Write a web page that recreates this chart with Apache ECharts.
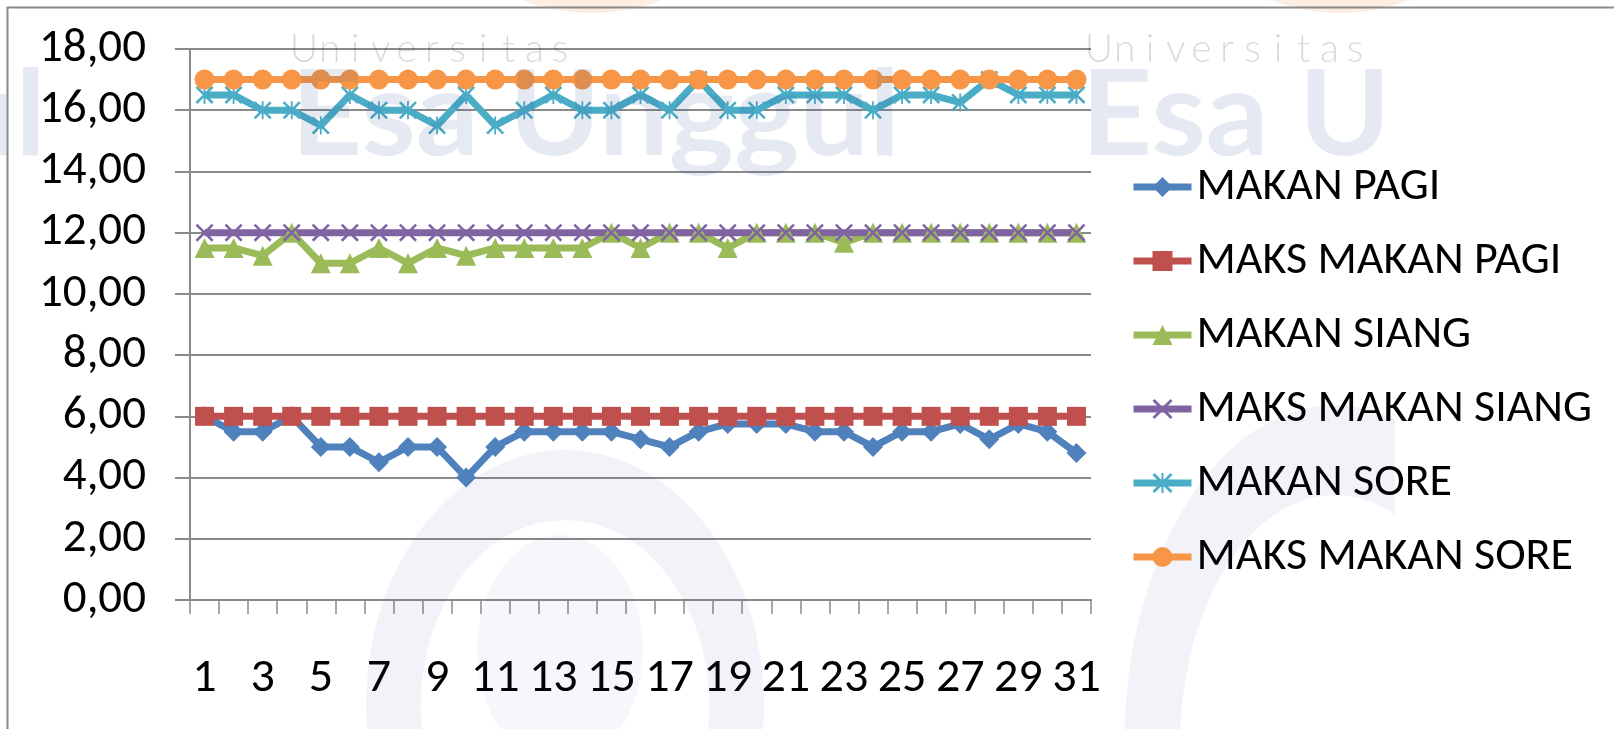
<!DOCTYPE html>
<html>
<head>
<meta charset="utf-8">
<script src="https://cdn.jsdelivr.net/npm/echarts@6/dist/echarts.min.js"></script>
<style>
  html, body { margin: 0; padding: 0; background: #ffffff; }
  #chart { width: 1614px; height: 729px; }
</style>
</head>
<body>
<div id="chart"></div>
<script>
// Days of the month (category axis)
const days = ['1','2','3','4','5','6','7','8','9','10','11','12','13','14','15','16',
              '17','18','19','20','21','22','23','24','25','26','27','28','29','30','31'];

// Breakfast intake and its maximum
const makanPagi = [6.0, 5.5, 5.5, 6.0, 5.0, 5.0, 4.5, 5.0, 5.0, 4.0, 5.0, 5.5, 5.5, 5.5, 5.5, 5.25,
                   5.0, 5.5, 5.75, 5.75, 5.75, 5.5, 5.5, 5.0, 5.5, 5.5, 5.75, 5.25, 5.75, 5.5, 4.8];
const maksMakanPagi = [6, 6, 6, 6, 6, 6, 6, 6, 6, 6, 6, 6, 6, 6, 6, 6,
                       6, 6, 6, 6, 6, 6, 6, 6, 6, 6, 6, 6, 6, 6, 6];

// Lunch intake and its maximum
const makanSiang = [11.5, 11.5, 11.25, 12.0, 11.0, 11.0, 11.5, 11.0, 11.5, 11.25, 11.5, 11.5, 11.5, 11.5, 12.0, 11.5,
                    12.0, 12.0, 11.5, 12.0, 12.0, 12.0, 11.67, 12.0, 12.0, 12.0, 12.0, 12.0, 12.0, 12.0, 12.0];
const maksMakanSiang = [12, 12, 12, 12, 12, 12, 12, 12, 12, 12, 12, 12, 12, 12, 12, 12,
                        12, 12, 12, 12, 12, 12, 12, 12, 12, 12, 12, 12, 12, 12, 12];

// Dinner intake and its maximum
const makanSore = [16.5, 16.5, 16.0, 16.0, 15.5, 16.5, 16.0, 16.0, 15.5, 16.5, 15.5, 16.0, 16.5, 16.0, 16.0, 16.5,
                   16.0, 17.0, 16.0, 16.0, 16.5, 16.5, 16.5, 16.0, 16.5, 16.5, 16.25, 17.0, 16.5, 16.5, 16.5];
const maksMakanSore = [17, 17, 17, 17, 17, 17, 17, 17, 17, 17, 17, 17, 17, 17, 17, 17,
                       17, 17, 17, 17, 17, 17, 17, 17, 17, 17, 17, 17, 17, 17, 17];

const seriesNames = ['MAKAN PAGI', 'MAKS MAKAN PAGI', 'MAKAN SIANG', 'MAKS MAKAN SIANG', 'MAKAN SORE', 'MAKS MAKAN SORE'];

// Value axis range and step
const yMin = 0, yMax = 18, yStep = 2;

const FONT = 'Carlito, Lato, "Open Sans", sans-serif';
const GRID_GRAY = '#8a8a8a';

// Cross and asterisk markers drawn as filled outlines
const crossPath = 'path://M0,1L1,0L10,9L9,10Z M9,0L10,1L1,10L0,9Z';
const starPath = 'path://M0,1L1,0L10,9L9,10Z M9,0L10,1L1,10L0,9Z M4.5,0L5.5,0L5.5,10L4.5,10Z';

function lineSeries(name, data, color, symbol, size) {
  return {
    name: name,
    type: 'line',
    data: data,
    symbol: symbol,
    symbolSize: size,
    showAllSymbol: true,
    lineStyle: { color: color, width: 7 },
    itemStyle: { color: color },
    emphasis: { disabled: true },
    animation: false
  };
}

// Letter-spaced heading text laid out glyph by glyph
function spacedText(str, x0, pitch, yMid, font, fill) {
  return {
    type: 'group', silent: true, z: 100,
    children: str.split('').map((ch, i) => ({
      type: 'text', x: x0 + i * pitch, y: yMid, silent: true, z: 100,
      style: { text: ch, font: font, fill: fill, align: 'center', verticalAlign: 'middle' }
    }))
  };
}

const chart = echarts.init(document.getElementById('chart'), null, { renderer: 'canvas' });

// Faint institutional watermark laid over the chart
const wmBlue = 'rgba(40,80,150,0.12)';
const wmGray = 'rgba(0,0,0,0.15)';
const wmLogo = 'rgba(40,80,150,0.065)';
const uniFont = '300 39px Lato, sans-serif';
const esaFont = 'bold 118px Lato, sans-serif';
const watermark = [
  spacedText('Universitas', 304, 25.6, 49, uniFont, wmGray),
  spacedText('Universitas', 1099, 25.6, 49, uniFont, wmGray),
  { type: 'text', x: 291, y: 117, scaleX: 1.05, silent: true, z: 100,
    style: { text: 'Esa Unggul', font: esaFont, fill: wmBlue, align: 'left', verticalAlign: 'middle' } },
  { type: 'text', x: 1081, y: 117, scaleX: 1.05, silent: true, z: 100,
    style: { text: 'Esa Unggul', font: esaFont, fill: wmBlue, align: 'left', verticalAlign: 'middle' } },
  { type: 'text', x: 46, y: 117, scaleX: 1.05, silent: true, z: 100,
    style: { text: 'Esa Unggul', font: esaFont, fill: wmBlue, align: 'right', verticalAlign: 'middle' } },
  { type: 'ring', silent: true, z: 100, x: 565, y: 705, scaleX: 0.78,
    shape: { cx: 0, cy: 0, r: 255, r0: 185 }, style: { fill: wmLogo } },
  { type: 'circle', silent: true, z: 100, x: 560, y: 650, scaleX: 0.72,
    shape: { cx: 0, cy: 0, r: 115 }, style: { fill: 'rgba(40,80,150,0.045)' } },
  { type: 'ring', silent: true, z: 100, x: 1335, y: 745, scaleX: 0.62,
    shape: { cx: 0, cy: 0, r: 340, r0: 250 }, style: { fill: wmLogo } },
  { type: 'circle', silent: true, z: 100, x: 592, y: -182,
    shape: { cx: 0, cy: 0, r: 195 }, style: { fill: 'rgba(240,120,40,0.13)' } },
  { type: 'circle', silent: true, z: 100, x: 1340, y: -182,
    shape: { cx: 0, cy: 0, r: 195 }, style: { fill: 'rgba(240,120,40,0.13)' } },
  // blank margin to the right of the watermark tile
  { type: 'rect', silent: true, z: 101,
    shape: { x: 1395, y: 9, width: 240, height: 740 }, style: { fill: '#ffffff' } },
  // outer chart frame
  { type: 'rect', silent: true, z: 102,
    shape: { x: 7.5, y: 7.5, width: 1620, height: 740 },
    style: { fill: 'none', stroke: '#8a8a8a', lineWidth: 2 } }
];

chart.setOption({
  backgroundColor: '#ffffff',
  animation: false,
  grid: { left: 190, right: 523, top: 49, bottom: 129, containLabel: false },
  graphic: watermark,
  legend: {
    orient: 'vertical',
    left: 1125,
    top: 159,
    z: 110,
    itemWidth: 58,
    itemHeight: 25,
    itemGap: 28,
    lineStyle: { width: 7 },
    textStyle: { fontFamily: FONT, fontSize: 46, color: '#000000', lineHeight: 46 },
    data: seriesNames,
    selectedMode: false
  },
  xAxis: {
    type: 'category',
    data: days,
    boundaryGap: true,
    axisLine: { show: true, lineStyle: { color: GRID_GRAY, width: 2 } },
    axisTick: { show: true, interval: 0, length: 14, lineStyle: { color: GRID_GRAY, width: 1.5 } },
    axisLabel: { interval: 1, margin: 55, fontFamily: FONT, fontSize: 48, color: '#000000' },
    splitLine: { show: false }
  },
  yAxis: {
    type: 'value',
    min: yMin,
    max: yMax,
    interval: yStep,
    axisLine: { show: true, lineStyle: { color: GRID_GRAY, width: 2 } },
    axisTick: { show: true, length: 15, lineStyle: { color: GRID_GRAY, width: 2 } },
    axisLabel: {
      margin: 44, fontFamily: FONT, fontSize: 47, color: '#000000',
      formatter: v => v.toFixed(2).replace('.', ',')
    },
    splitLine: { show: true, lineStyle: { color: GRID_GRAY, width: 2 } }
  },
  series: [
    lineSeries(seriesNames[0], makanPagi, '#4F81BD', 'diamond', 20),
    lineSeries(seriesNames[1], maksMakanPagi, '#C0504D', 'rect', 19),
    lineSeries(seriesNames[2], makanSiang, '#9BBB59', 'triangle', 20),
    lineSeries(seriesNames[3], maksMakanSiang, '#8064A2', crossPath, 18),
    lineSeries(seriesNames[4], makanSore, '#4BACC6', starPath, 18),
    lineSeries(seriesNames[5], maksMakanSore, '#F79646', 'circle', 20)
  ]
});
</script>
</body>
</html>
